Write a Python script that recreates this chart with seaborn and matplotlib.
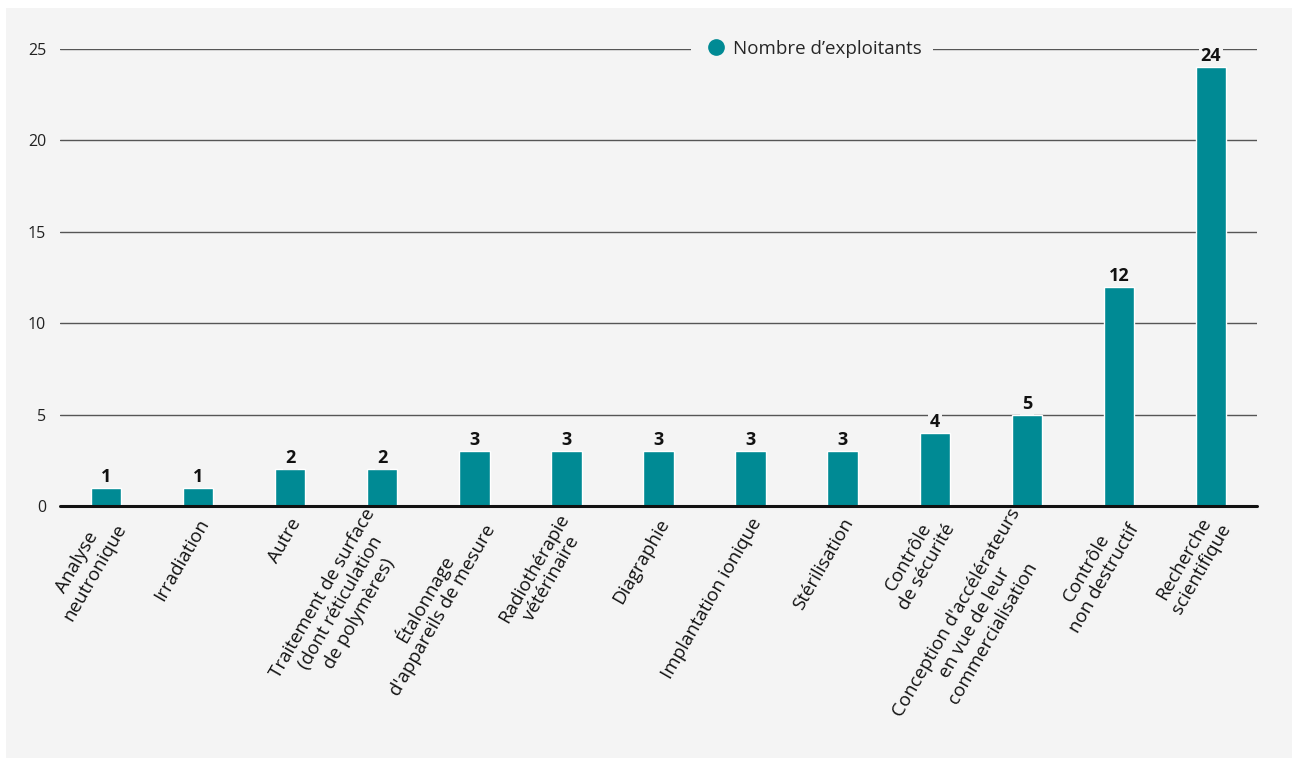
import matplotlib
matplotlib.use("Agg")
import matplotlib.pyplot as plt
import matplotlib.transforms as mtrans
from matplotlib.patches import Rectangle
from matplotlib.lines import Line2D
import seaborn as sns
import pandas as pd

categories = [
    "Analyse\nneutronique",
    "Irradiation",
    "Autre",
    "Traitement de surface\n(dont réticulation\nde polymères)",
    "Étalonnage\nd'appareils de mesure",
    "Radiothérapie\nvétérinaire",
    "Diagraphie",
    "Implantation ionique",
    "Stérilisation",
    "Contrôle\nde sécurité",
    "Conception d'accélérateurs\nen vue de leur\ncommercialisation",
    "Contrôle\nnon destructif",
    "Recherche\nscientifique",
]
values = [1, 1, 2, 2, 3, 3, 3, 3, 3, 4, 5, 12, 24]
yticks = [0, 5, 10, 15, 20, 25]
series_name = "Nombre d\u2019exploitants"

TEAL = "#008a94"
PANEL = "#f4f4f4"

sns.set_theme(style="white")
plt.rcParams["font.family"] = ["Open Sans", "DejaVu Sans"]

df = pd.DataFrame({"cat": categories, "val": values})

W, H = 1292, 758
fig = plt.figure(figsize=(W / 100, H / 100), dpi=100, facecolor="white")
fig.patches.append(Rectangle((6 / W, 0), 1, 1 - 8 / H, transform=fig.transFigure,
                             facecolor=PANEL, edgecolor="none", zorder=-10))

ax = fig.add_axes([60 / W, 1 - 506 / H, 1197 / W, (506 - 49) / H])
ax.patch.set_alpha(0)

sns.barplot(data=df, x="cat", y="val", color=TEAL, width=0.33, ax=ax,
            saturation=1, zorder=3)

ax.set_xlim(-0.5, len(categories) - 0.5)
ax.set_ylim(0, 25)
ax.set_yticks(yticks)
ax.set_yticklabels([str(t) for t in yticks], fontsize=11.5, color="#222222")
for t in yticks[1:]:
    ax.axhline(t, color="#555555", lw=1, zorder=1)
ax.axhline(0, color="#111111", lw=2.2, zorder=4, clip_on=False)

for s in ax.spines.values():
    s.set_visible(False)
ax.tick_params(axis="y", length=0, pad=10)
ax.tick_params(axis="x", length=0, pad=2)
ax.set_xlabel("")
ax.set_ylabel("")

ax.set_xticks(range(len(categories)))
ax.set_xticklabels(categories, rotation=60, ha="right", va="center",
                   rotation_mode="anchor", multialignment="center",
                   fontsize=13.5, color="#111111", linespacing=1.2)
offset = mtrans.ScaledTranslation(5 / 72, -8 / 72, fig.dpi_scale_trans)
for lbl in ax.get_xticklabels():
    lbl.set_transform(lbl.get_transform() + offset)

for i, v in enumerate(values):
    ax.annotate(str(v), (i, v), xytext=(0, 1.5), textcoords="offset points",
                ha="center", va="bottom", fontsize=13, fontweight="bold",
                color="#111111", zorder=5,
                bbox=dict(boxstyle="square,pad=0.12", facecolor=PANEL, edgecolor="none"))

handle = Line2D([], [], marker="o", linestyle="none", markersize=11,
                markerfacecolor=TEAL, markeredgecolor=TEAL)
leg = ax.legend([handle], [series_name], loc="center",
                bbox_to_anchor=((812 - 60) / 1197, 1.0), frameon=True,
                fontsize=13.5, handletextpad=0.2, borderpad=0.6,
                borderaxespad=0, handlelength=1.4,
                facecolor=PANEL, edgecolor="none", framealpha=1)
leg.set_zorder(6)

fig.savefig("out.png", dpi=100, facecolor="white")
